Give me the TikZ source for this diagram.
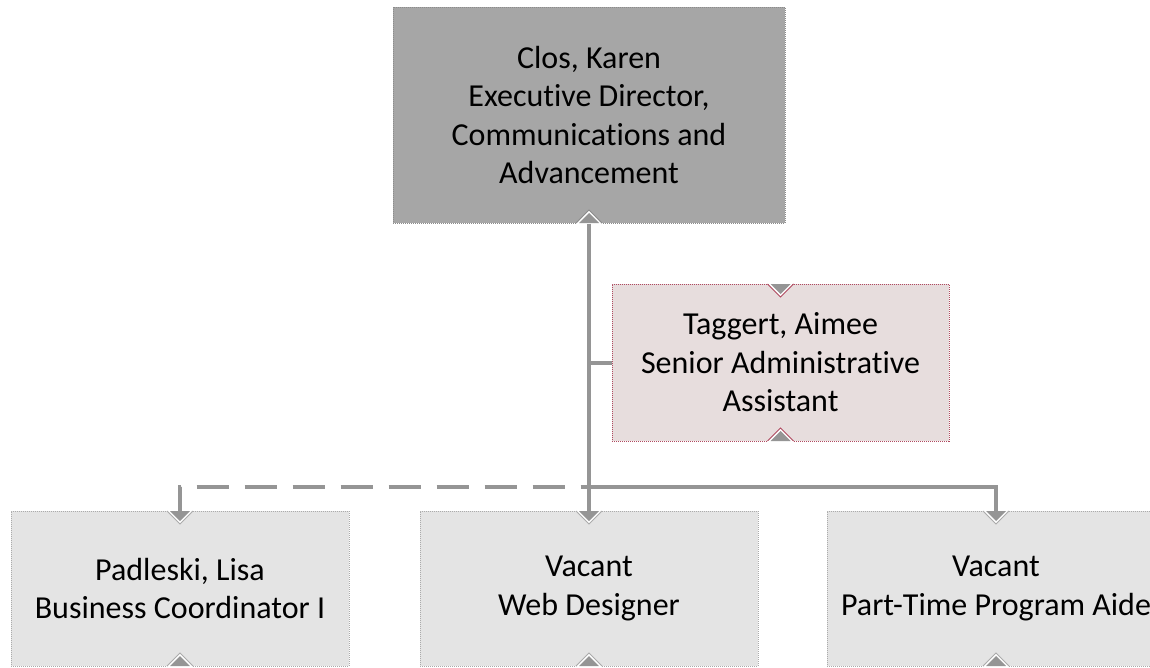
\documentclass[tikz,border=0pt]{standalone}
\usepackage{fontspec}
\setmainfont{Carlito}[Ligatures=NoCommon]
\definecolor{topfill}{HTML}{A6A6A6}
\definecolor{topline}{HTML}{8C8C8C}
\definecolor{subfill}{HTML}{E4E4E4}
\definecolor{subline}{HTML}{ABABAB}
\definecolor{asstfill}{HTML}{E7DDDD}
\definecolor{asstline}{HTML}{B04A60}
\definecolor{linegray}{HTML}{959595}
\newcommand\topnotch[3]{%
  \fill[white] (#1-13,#2-1) -- (#1+13,#2-1) -- (#1,#2+13) -- cycle;
  \draw[#3, line width=1pt] (#1-13,#2) -- (#1,#2+13) -- (#1+13,#2);
  \fill[linegray] (#1-10,#2) -- (#1+10,#2) -- (#1,#2+10) -- cycle;}
\newcommand\botnotch[3]{%
  \fill[white] (#1-13,#2+1) -- (#1+13,#2+1) -- (#1,#2-13) -- cycle;
  \draw[#3, line width=1pt] (#1-13,#2) -- (#1,#2-13) -- (#1+13,#2);
  \fill[linegray] (#1-10,#2) -- (#1+10,#2) -- (#1,#2-10) -- cycle;}
\begin{document}
\begin{tikzpicture}[x=1pt,y=-1pt,
  box/.style={rectangle, inner sep=0pt, align=center,
    font=\fontsize{32}{38.5}\selectfont, line width=1pt, densely dotted},
  conn/.style={draw=linegray, line width=4pt}]
\clip (0,0) rectangle (1150,667);
\fill[white] (0,0) rectangle (1150,667);
% boxes
\node[box, fill=topfill, draw=topline, minimum width=392, minimum height=216]
  (karen) at (589,115) {Clos, Karen\\Executive Director,\\Communications and\\Advancement};
\node[box, fill=asstfill, draw=asstline, minimum width=337, minimum height=157]
  (aimee) at (780.5,362.5) {Taggert, Aimee\\Senior Administrative\\Assistant};
\node[box, fill=subfill, draw=subline, minimum width=338, minimum height=155]
  (lisa) at (180,588.5) {Padleski, Lisa\\Business Coordinator I};
\node[box, fill=subfill, draw=subline, minimum width=338, minimum height=155]
  (web) at (589,588.5) {Vacant\\Web Designer};
\node[box, fill=subfill, draw=subline, minimum width=338, minimum height=155]
  (aide) at (996,588.5) {Vacant\\Part-Time Program Aide};
% notches
\botnotch{589}{223}{topline}
\topnotch{780.5}{284}{asstline}
\botnotch{780.5}{441}{asstline}
\topnotch{180}{511}{subline}
\topnotch{589}{511}{subline}
\topnotch{996}{511}{subline}
\botnotch{180}{666}{subline}
\botnotch{589}{666}{subline}
\botnotch{996}{666}{subline}
% connectors
\coordinate (bus) at (589,487);
\draw[conn] (karen.south) -- (web.north);
\draw[conn] (karen.south |- aimee.west) -- (aimee.west);
\draw[conn] (bus) -| (aide.north);
\draw[conn, dash pattern=on 32pt off 16pt, dash phase=8pt] (lisa.north) |- (bus);
\end{tikzpicture}
\end{document}
